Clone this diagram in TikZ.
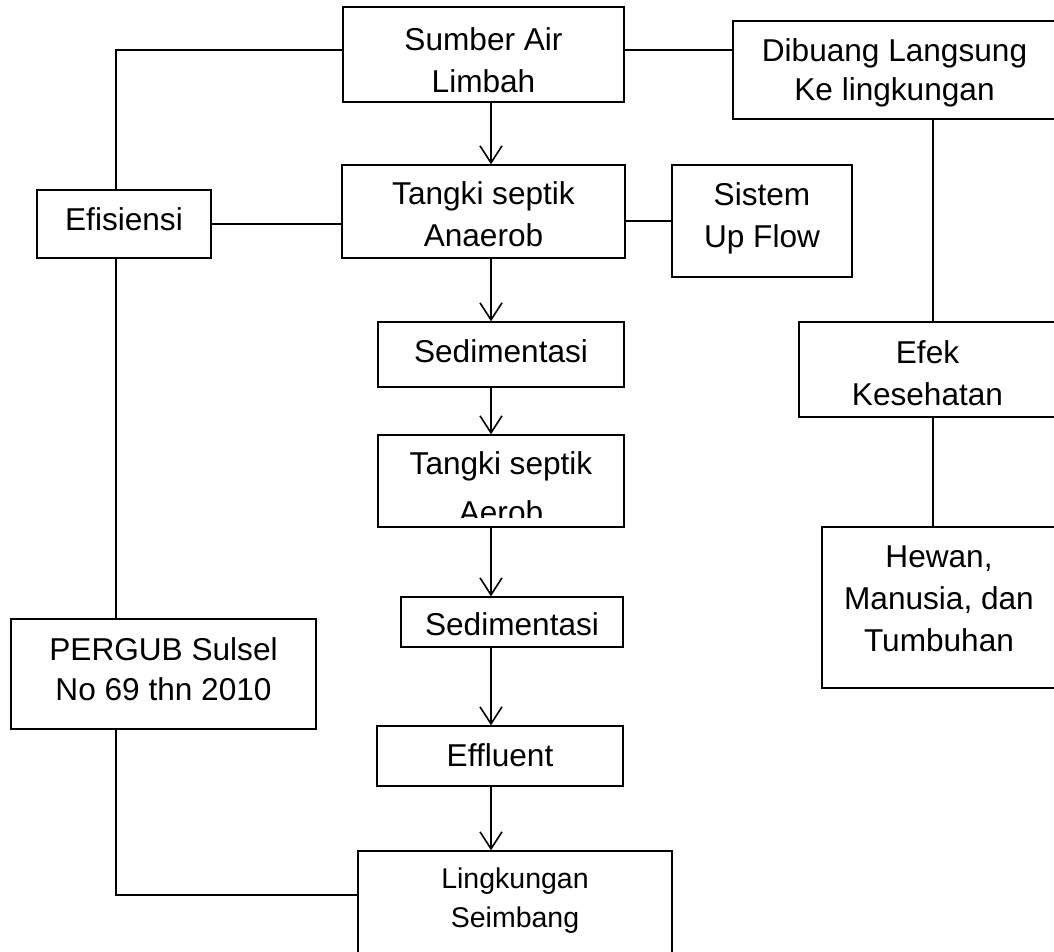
\documentclass[tikz,border=0pt]{standalone}
\usepackage{fontspec}
\setmainfont{Liberation Sans}
\usetikzlibrary{arrows.meta}
\begin{document}
\begin{tikzpicture}[x=1pt,y=-1pt,
  box/.style={draw, line width=1.4pt, inner sep=0pt},
  txt/.style={inner sep=0pt, align=center, font=\fontsize{31.6}{42}\selectfont},
  link/.style={line width=1.6pt},
  arr/.style={line width=1.6pt, -{Straight Barb[length=17pt,width=22pt,line width=1.6pt]}}]
\clip (0,0) rectangle (1054,951);
\fill[white] (0,0) rectangle (1054,951);
\coordinate (lx) at (116,0);
\coordinate (rx) at (933,0);
\coordinate (ax) at (491,0);
% boxes
\node[box, minimum width=281pt, minimum height=95pt,
  label={[txt,yshift=-5.3pt]center:Sumber Air\\Limbah}] (sumber) at (483.5,54.5) {};
\node[box, minimum width=323pt, minimum height=98pt,
  label={[txt,font=\fontsize{31.6}{39}\selectfont,yshift=-3pt]center:Dibuang Langsung\\Ke lingkungan}] (dibuang) at (894.5,70) {};
\node[box, minimum width=174pt, minimum height=68pt,
  label={[txt,yshift=5.2pt]center:Efisiensi}] (efis) at (124,224) {};
\node[box, minimum width=283pt, minimum height=93pt,
  label={[txt,yshift=-2.3pt]center:Tangki septik\\Anaerob}] (tangki) at (483.5,211.5) {};
\node[box, minimum width=180pt, minimum height=112pt,
  label={[txt,yshift=3pt]center:Sistem\\Up Flow}] (sistem) at (762,221) {};
\node[box, minimum width=246pt, minimum height=65pt,
  label={[txt,yshift=3.7pt]center:Sedimentasi}] (sed1) at (501,354.5) {};
\node[box, minimum width=257pt, minimum height=95pt,
  label={[txt,yshift=-3.3pt]center:Efek\\Kesehatan}] (efek) at (927.5,369.5) {};
\node[box, minimum width=246pt, minimum height=92pt] (aerob) at (501,481) {};
\begin{scope}
  \clip ([yshift=10pt]aerob.south west) rectangle (aerob.north east);
  \node[txt, font=\fontsize{31.6}{49}\selectfont, yshift=-7pt] (aerobtxt) at (aerob.center) {Tangki septik\\Aerob};
\end{scope}
\node[box, minimum width=234pt, minimum height=161pt,
  label={[txt,yshift=8.7pt]center:Hewan,\\Manusia, dan\\Tumbuhan}] (hewan) at (939,607.5) {};
\node[box, minimum width=305pt, minimum height=110pt,
  label={[txt,font=\fontsize{31.6}{40}\selectfont,yshift=5.2pt]center:PERGUB Sulsel\\No 69 thn 2010}] (pergub) at (163.5,674) {};
\node[box, minimum width=222pt, minimum height=50pt,
  label={[txt,yshift=-1.8pt]center:Sedimentasi}] (sed2) at (512,622) {};
\node[box, minimum width=246pt, minimum height=60pt,
  label={[txt,yshift=1.2pt]center:Effluent}] (effl) at (500,756) {};
\node[box, minimum width=314pt, minimum height=104pt,
  label={[txt,font=\fontsize{28.5}{39}\selectfont,yshift=2.8pt]center:Lingkungan\\Seimbang}] (ling) at (515,903) {};
% connectors
\draw[link] ([yshift=4.5pt]sumber.west) -| (efis.north -| lx);
\draw[link] (efis.south -| lx) -- (pergub.north -| lx);
\draw[link] (pergub.south -| lx) |- ([yshift=8pt]ling.west);
\draw[link] (efis.east) -- (efis.east -| tangki.west);
\draw[link] (sistem.west -| tangki.east) -- (sistem.west);
\draw[link] ([yshift=4.5pt]sumber.east) -- ([yshift=4.5pt]sumber.east -| dibuang.west);
\draw[link] (dibuang.south -| rx) -- (efek.north -| rx);
\draw[link] (efek.south -| rx) -- (hewan.north -| rx);
\draw[arr] (sumber.south -| ax) -- (tangki.north -| ax);
\draw[arr] (tangki.south -| ax) -- (sed1.north -| ax);
\draw[arr] (sed1.south -| ax) -- (aerob.north -| ax);
\draw[arr] (aerob.south -| ax) -- (sed2.north -| ax);
\draw[arr] (sed2.south -| ax) -- (effl.north -| ax);
\draw[arr] (effl.south -| ax) -- (ling.north -| ax);
\end{tikzpicture}
\end{document}
